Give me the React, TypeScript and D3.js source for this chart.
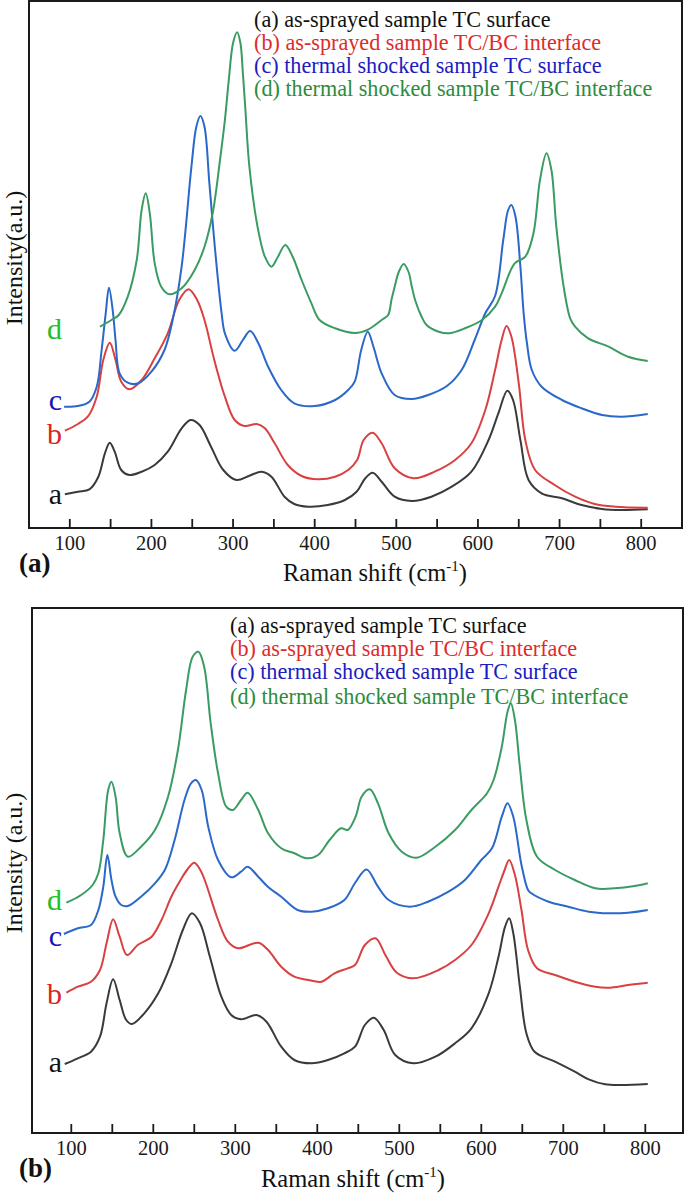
import React from "react";
import * as d3 from "d3";

type Pt = [number, number];

// ---------- tick values ----------
const majorTicks = [100, 200, 300, 400, 500, 600, 700, 800];
const allTicks = [100, 150, 200, 250, 300, 350, 400, 450, 500, 550, 600, 650, 700, 750, 800];

// ---------- legend texts ----------
const legendA = [
  "(a) as-sprayed sample TC surface",
  "(b) as-sprayed sample TC/BC interface",
  "(c) thermal shocked sample TC surface",
  "(d) thermal shocked sample TC/BC interface",
];
const legendB = legendA;
const curveLabels = ["a", "b", "c", "d"];

// ---------- panel (a) spectra: [Raman shift, intensity a.u.] ----------
const panelA_a: Pt[] = [
  [94, 33.7], [110, 36.3], [124, 38.7], [135, 51.3], [143, 74.7], [149, 85.3], [155, 76.3], [163, 58],
  [173, 53], [188, 56.3], [204, 63], [220, 76.3], [237, 99.7], [248, 108], [259, 103], [273, 81.3],
  [288, 58], [304, 48], [320, 52.3], [335, 56.3], [347, 51.3], [363, 31.3], [375, 24], [392, 21.3],
  [416, 23], [437, 28], [451, 36], [462, 49.7], [471, 55.3], [482, 46.3], [498, 31.3], [519, 27],
  [543, 31.3], [568, 41.3], [592, 56.3], [613, 88], [625, 114.7], [636, 137.3], [643, 128], [652, 88],
  [662, 48], [678, 34.7], [703, 29.7], [727, 23], [752, 19], [776, 18], [808, 18.7],
];
const panelA_b: Pt[] = [
  [94, 97.3], [110, 104], [122, 111.3], [133, 131.3], [141, 168], [149, 185.3], [156, 168], [163, 146.3],
  [173, 138.7], [188, 148], [204, 169.7], [220, 194.7], [234, 228], [245.5, 238.7], [256, 228], [265, 208],
  [277, 168], [290, 131.3], [302, 108], [314, 102], [329, 104], [339, 99.7], [351, 84.7], [367, 63],
  [384, 52], [404, 48.7], [425, 51.3], [441, 58], [452, 68], [460, 88], [471, 95.3], [482, 84.7],
  [498, 59.7], [521, 49.7], [547, 56.3], [572, 68], [592, 84.7], [609, 118], [621, 158], [629, 188],
  [635, 202], [641, 191.3], [650, 144.7], [658, 88], [670, 58], [694, 43], [719, 31.3], [743, 24],
  [768, 21.3], [808, 20.3],
];
const panelA_c: Pt[] = [
  [93, 121.3], [110, 122], [124, 126.3], [133, 141.3], [139, 178], [144, 214.7], [148, 240.3], [153, 214.7],
  [156, 188], [161, 154.7], [171, 145.3], [184, 144.7], [200, 156.3], [216, 178], [226, 208], [237, 261.3],
  [249, 361.3], [255, 401.3], [260, 412], [265, 401.3], [271, 344.7], [278, 278], [286, 214.7], [290, 194.7],
  [302, 177.3], [312, 188], [321, 197], [331, 184.7], [343, 161.3], [359, 138], [375, 124.7], [400, 122],
  [425, 128], [441, 138], [449, 146.3], [457, 178], [465, 196.3], [472, 181.3], [482, 154.7], [498, 133],
  [519, 129], [539, 133], [562, 142], [580, 158], [596, 188], [609, 214.7], [621, 232], [631, 288],
  [637, 318], [641, 323], [646, 311.3], [652, 261.3], [656, 214.7], [660, 185], [666, 158], [678, 141.3],
  [703, 128], [727, 119.7], [752, 113], [776, 111.3], [808, 114],
];
const panelA_d: Pt[] = [
  [137, 201.3], [151, 208], [160, 213], [171, 231.3], [182, 268], [188, 318], [193, 334.7], [198, 314.7],
  [204, 264.7], [212, 241.3], [222, 233.7], [237, 239.7], [253, 258], [265, 281.3], [275, 314.7], [284, 368],
  [290, 408], [295, 450], [300, 485], [305, 495.7], [309, 485], [312, 455], [315, 420], [320, 361.3],
  [330, 301.3], [339, 271.3], [347, 261.3], [355, 271.3], [364, 283], [373, 271.3], [384, 248], [396, 224.7],
  [406, 208], [425, 199.7], [449, 195], [466, 198.7], [482, 208], [490, 213], [494, 228], [498, 241.3],
  [503, 256], [509, 264], [515, 256], [519, 241.3], [523, 228], [531, 211.3], [537, 203], [552, 196.3],
  [564, 194.7], [584, 199.7], [605, 208], [621, 221.3], [629, 234.7], [645, 264.7], [658, 271.3], [668, 294.7],
  [676, 348], [684, 374.7], [690, 358], [696, 301.3], [705, 241.3], [713, 209.7], [719, 201.3], [735, 189.7],
  [760, 181.3], [784, 171.3], [808, 167],
];

// ---------- panel (b) spectra ----------
const panelB_a: Pt[] = [
  [92, 69], [108, 74.7], [124, 81.3], [135, 96.3], [143, 129.7], [151, 153.7], [159, 133], [167, 113],
  [174, 109], [189, 119.7], [206, 139.7], [222, 169.7], [236, 203], [247, 219.7], [257, 209.7], [269, 176.3],
  [283, 136.3], [295, 118], [307, 113.7], [326, 118], [338, 111.3], [356, 86.3], [372, 73], [393, 69.7],
  [413, 73], [433, 79.7], [446, 86.3], [458, 108], [469, 115.3], [481, 103], [495, 78], [517, 69.7],
  [544, 76.3], [568, 89.7], [588, 104.7], [609, 139.7], [621, 176.3], [629, 206.3], [634, 214.7], [639, 199.7],
  [647, 146.3], [655, 99.7], [665, 81.3], [690, 71.3], [714, 61.3], [731, 53.7], [751, 48.7], [771, 48],
  [803, 49],
];
const panelB_b: Pt[] = [
  [94, 140.3], [108, 146.3], [124, 151.3], [135, 163], [143, 189.7], [151, 213.7], [159, 196.3], [168, 178],
  [181, 188], [198, 196.3], [210, 213], [222, 236.3], [234, 254], [242, 264], [250, 270.3], [258, 262],
  [264, 250], [279, 213], [291, 191.3], [303, 184.7], [328, 190.3], [340, 183], [356, 166.3], [372, 156.3],
  [389, 153], [405, 151.3], [421, 159.7], [437, 164.7], [446, 168], [458, 188], [471, 194.7], [483, 178],
  [497, 160.3], [517, 154.7], [548, 163], [568, 173], [588, 188], [609, 219.7], [621, 246.3], [628, 262],
  [634, 273], [641, 258], [649, 223], [657, 183], [668, 164.7], [690, 158], [714, 151.3], [739, 146.3],
  [755, 145.3], [779, 148], [803, 150.3],
];
const panelB_c: Pt[] = [
  [91, 199], [108, 204.7], [124, 208], [133, 223], [139, 246.3], [144, 278], [149, 253], [154, 236.3],
  [161, 228], [169, 227], [185, 236.3], [202, 249.7], [214, 263], [226, 293], [238, 333], [246, 349.7],
  [252, 353], [259, 343], [267, 306.3], [279, 273], [295, 255.7], [307, 261.3], [315, 266.3], [328, 256.3],
  [340, 246], [356, 236.3], [376, 223], [393, 221.3], [413, 224.7], [433, 233], [446, 250], [460, 263.5],
  [474, 246.3], [487, 233], [513, 226.3], [535, 231.3], [560, 241.3], [580, 253], [600, 273], [613, 284.7],
  [625, 316.3], [632, 329.7], [639, 316.3], [649, 268], [657, 243], [661, 239.7], [682, 231.3], [706, 226.3],
  [731, 221.3], [755, 219.7], [779, 220.3], [803, 223],
];
const panelB_d: Pt[] = [
  [94, 230.3], [112, 238], [126, 248], [133, 259.7], [139, 293], [145, 343], [149, 351.3], [154, 336.3],
  [159, 299.7], [169, 276.3], [185, 286.3], [202, 303], [218, 336.3], [230, 383], [240, 443], [248, 476.3],
  [255, 481.3], [262, 466.3], [270, 409.7], [279, 359.7], [289, 326.3], [297, 323], [307, 333], [315, 340.3],
  [328, 323], [340, 299.7], [356, 284.7], [372, 279.7], [387, 274.7], [401, 278], [415, 293], [429, 304.7],
  [437, 303], [447, 317], [454, 336.3], [464, 343.7], [474, 329.7], [487, 299.7], [503, 281.3], [521, 275.3],
  [544, 286.3], [568, 303], [588, 323], [607, 339.7], [615, 353], [625, 386.3], [632, 421.3], [636, 429.7],
  [641, 413], [647, 366.3], [655, 313], [668, 276.3], [690, 263], [714, 253], [739, 244.7], [763, 244.7],
  [787, 247], [803, 249.7],
];

// ---------- styles ----------
const FONT =
  '"Liberation Serif", "Times New Roman", Tinos, Times, "Nimbus Roman", "DejaVu Serif", "Noto Serif", serif';
const curveColors = ["#3a3a3a", "#d94141", "#2a68c9", "#3a9c62"];
const legendColors = ["#111111", "#dd2c2c", "#1c1cc0", "#2b8c3c"];
const labelColors = ["#111111", "#dd2222", "#1515b5", "#22c022"];

type PanelProps = {
  frame: { x0: number; x1: number; y0: number; y1: number };
  xRange: [number, number];
  series: Pt[][];
  legend: string[];
  legendX: number;
  legendY: number[];
  labelY: number[];
  tickLabelY: number;
  panelTag: string;
  tagY: number;
  xTitleX: number;
  xTitleY: number;
  yTitle: string;
  yTitleY: number;
};

function Panel(p: PanelProps) {
  const { frame } = p;
  const x = d3.scaleLinear().domain([100, 800]).range(p.xRange);
  const y = d3.scaleLinear().domain([0, frame.y1 - frame.y0]).range([frame.y1, frame.y0]);
  const line = d3
    .line<Pt>()
    .x((d) => x(d[0]))
    .y((d) => y(d[1]))
    .curve(d3.curveCatmullRom.alpha(0.5));
  const tf = { fontFamily: FONT };

  return (
    <g>
      {p.series.map((s, i) => (
        <path key={i} d={line(s) || ""} fill="none" stroke={curveColors[i]} strokeWidth={2} strokeLinejoin="round" />
      ))}
      <rect
        x={frame.x0}
        y={frame.y0}
        width={frame.x1 - frame.x0}
        height={frame.y1 - frame.y0}
        fill="none"
        stroke="#1a1a1a"
        strokeWidth={2}
      />
      {allTicks.map((t) => (
        <line key={t} x1={x(t)} x2={x(t)} y1={frame.y1} y2={frame.y1 - 9} stroke="#1a1a1a" strokeWidth={1.8} />
      ))}
      {majorTicks.map((t) => (
        <text key={t} x={x(t)} y={p.tickLabelY} textAnchor="middle" style={tf} fontSize={20.5} fill="#1a1a1a">
          {t}
        </text>
      ))}
      {p.legend.map((t, i) => (
        <text key={i} x={p.legendX} y={p.legendY[i]} style={tf} fontSize={22.2} fill={legendColors[i]}>
          {t}
        </text>
      ))}
      {curveLabels.map((t, i) => (
        <text key={t} x={62} y={p.labelY[i]} textAnchor="end" style={tf} fontSize={30} fill={labelColors[i]}>
          {t}
        </text>
      ))}
      <text x={19} y={p.tagY} style={tf} fontSize={27} fontWeight="bold" fill="#111">
        {p.panelTag}
      </text>
      <text x={p.xTitleX} y={p.xTitleY} textAnchor="middle" style={tf} fontSize={24.5} fill="#111">
        Raman shift (cm
        <tspan fontSize={15} dy={-10}>-1</tspan>
        <tspan dy={10}>)</tspan>
      </text>
      <text
        transform={`translate(22,${p.yTitleY}) rotate(-90)`}
        textAnchor="middle"
        style={tf}
        fontSize={24}
        fill="#111"
      >
        {p.yTitle}
      </text>
    </g>
  );
}

export default function App() {
  return (
    <svg
      width={685}
      height={1193}
      style={{ position: "absolute", left: 0, top: 0, background: "#fff", fontFamily: FONT }}
    >
      <rect x={0} y={0} width={685} height={1193} fill="#fff" />
      <Panel
        frame={{ x0: 29, x1: 682, y0: 1, y1: 528 }}
        xRange={[69.8, 641.2]}
        series={[panelA_a, panelA_b, panelA_c, panelA_d]}
        legend={legendA}
        legendX={254}
        legendY={[27, 50, 73, 96]}
        labelY={[504, 444, 410, 339]}
        tickLabelY={550}
        panelTag="(a)"
        tagY={572}
        xTitleX={375}
        xTitleY={581}
        yTitle="Intensity(a.u.)"
        yTitleY={258}
      />
      <Panel
        frame={{ x0: 32, x1: 683, y0: 608, y1: 1133 }}
        xRange={[71.3, 645.3]}
        series={[panelB_a, panelB_b, panelB_c, panelB_d]}
        legend={legendB}
        legendX={230}
        legendY={[633, 656, 679, 704]}
        labelY={[1072, 1004, 946, 910]}
        tickLabelY={1155}
        panelTag="(b)"
        tagY={1177}
        xTitleX={353}
        xTitleY={1187}
        yTitle="Intensity (a.u.)"
        yTitleY={863}
      />
    </svg>
  );
}
